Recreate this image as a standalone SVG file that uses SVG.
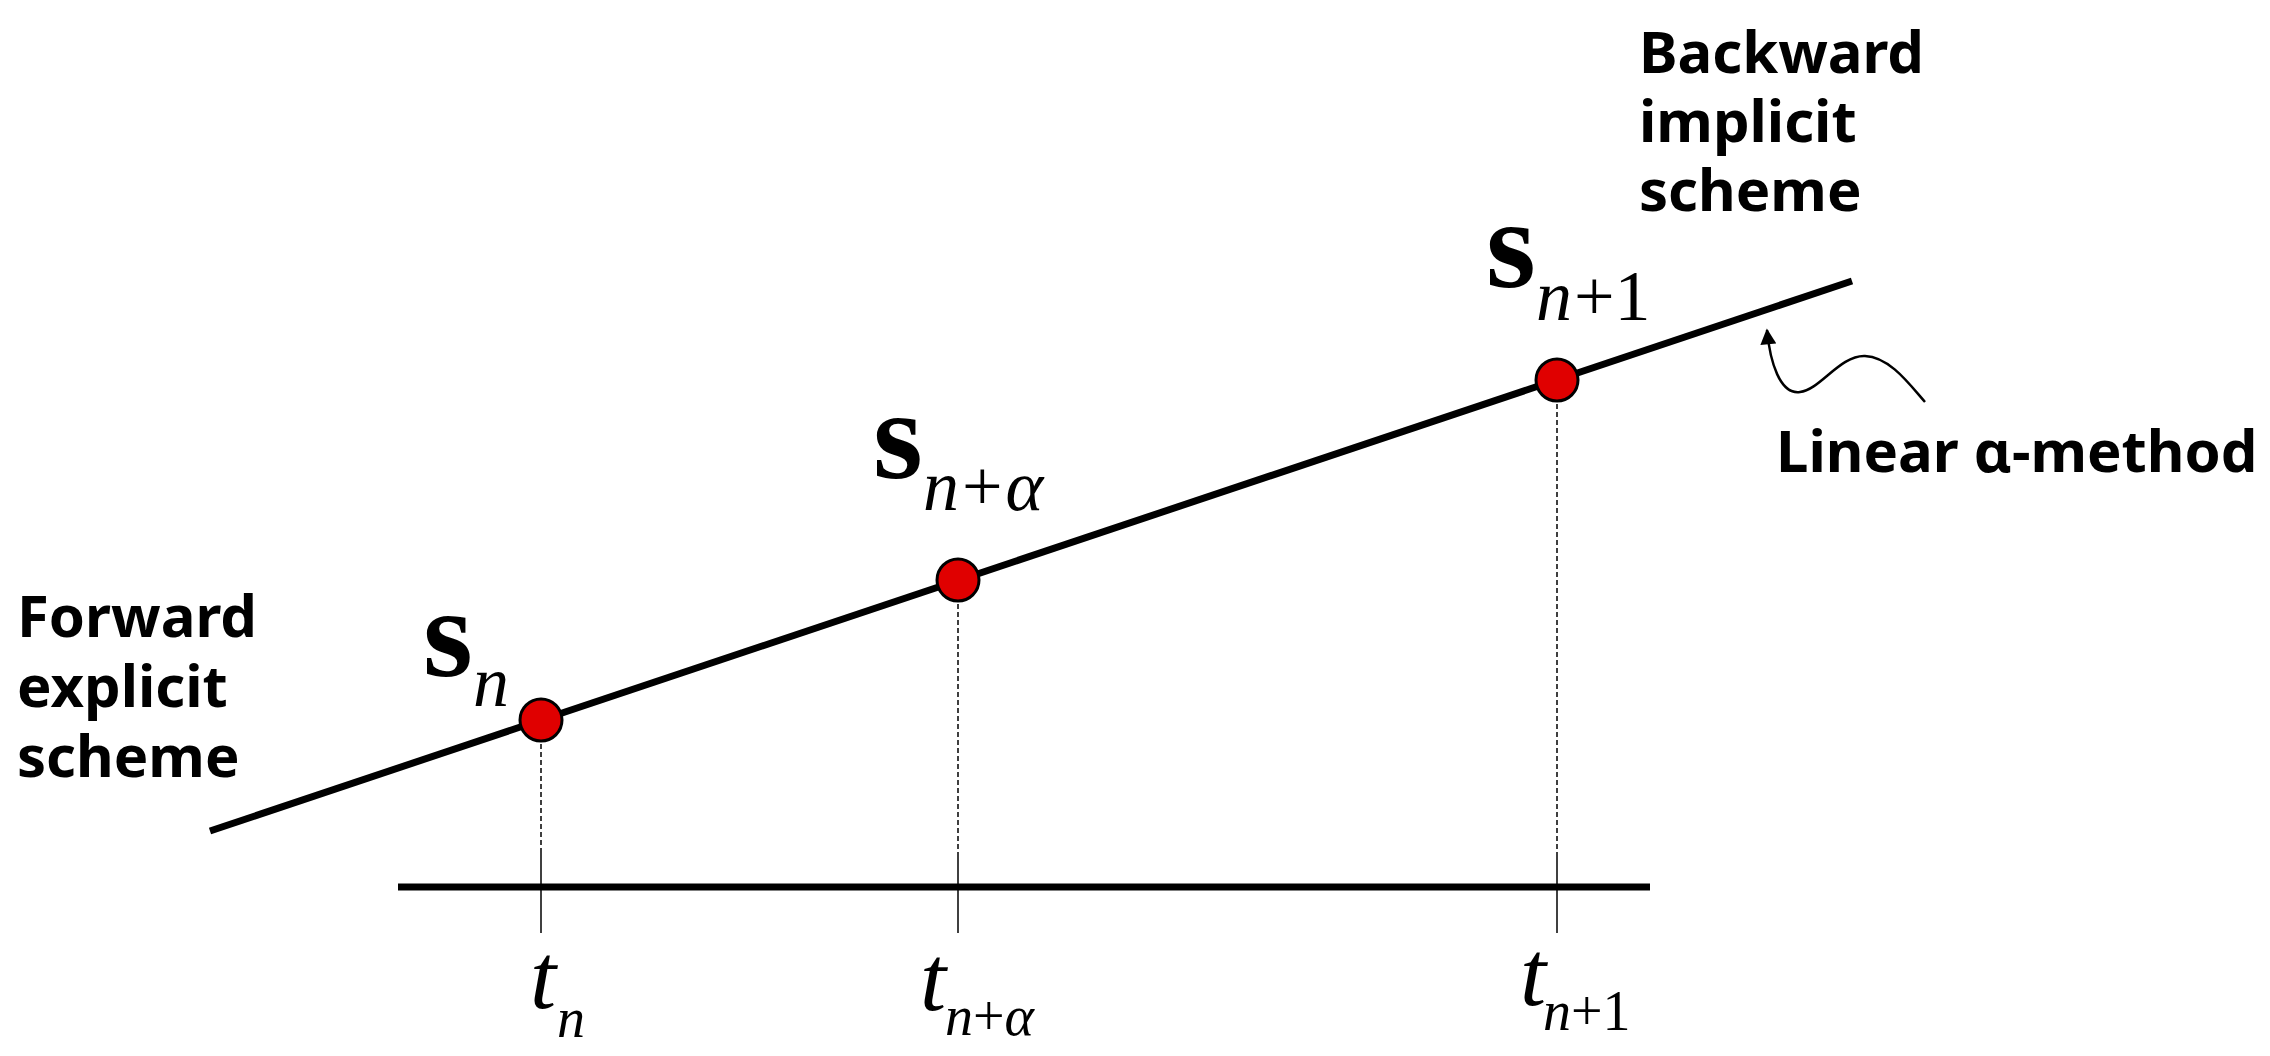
<svg xmlns="http://www.w3.org/2000/svg" width="2270" height="1056" viewBox="0 0 2270 1056">
<style>
.lbl{font-family:"Noto Sans","Liberation Sans",sans-serif;font-weight:bold;font-size:58px;fill:#000}
.sv{font-family:"Liberation Serif","DejaVu Serif",serif;font-weight:bold;font-size:128px;fill:#000}
.sub{font-family:"Liberation Serif","DejaVu Serif",serif;font-style:italic;font-size:72px;fill:#000}
.tv{font-family:"Liberation Serif","DejaVu Serif",serif;font-style:italic;font-size:94px;fill:#000}
.tsub{font-family:"Liberation Serif","DejaVu Serif",serif;font-style:italic;font-size:56px;fill:#000}
.up{font-style:normal}
.pt{fill:#e00000;stroke:#000;stroke-width:3}
.dash{stroke:#000;stroke-width:1.5;stroke-dasharray:5 3;fill:none}
.tick{stroke:#000;stroke-width:1.5;fill:none}
</style>
<defs>
<marker id="ah" viewBox="0 0 10 10" refX="9" refY="5" markerWidth="18" markerHeight="16" markerUnits="userSpaceOnUse" orient="auto">
<path d="M0,0 L10,5 L0,10 z" fill="#000"/>
</marker>
</defs>
<g id="connectors">
<line x1="210" y1="831" x2="1852" y2="281" stroke="#000" stroke-width="7"/>
<line x1="398" y1="887" x2="1650" y2="887" stroke="#000" stroke-width="7"/>
<line class="dash" x1="541" y1="744" x2="541" y2="853"/>
<line class="tick" x1="541" y1="853" x2="541" y2="933"/>
<line class="dash" x1="958" y1="604" x2="958" y2="853"/>
<line class="tick" x1="958" y1="853" x2="958" y2="933"/>
<line class="dash" x1="1557" y1="404" x2="1557" y2="853"/>
<line class="tick" x1="1557" y1="853" x2="1557" y2="933"/>
<path d="M1925,402 C1910,385 1890,357 1865,356 C1840,355 1820,390 1800,392 C1780,395 1770,362 1767,330" fill="none" stroke="#000" stroke-width="2.5" marker-end="url(#ah)"/>
</g>
<g id="node-sn">
<circle class="pt" cx="541" cy="720" r="21"/>
<text class="sv" x="423" y="676">s</text>
<text class="sub" x="473" y="706">n</text>
</g>
<g id="node-snalpha">
<circle class="pt" cx="958" cy="580" r="21"/>
<text class="sv" x="873" y="478">s</text>
<text class="sub" x="923" y="510">n<tspan class="up" dx="3">+</tspan><tspan dx="3">α</tspan></text>
</g>
<g id="node-sn1">
<circle class="pt" cx="1557" cy="380" r="21"/>
<text class="sv" x="1486" y="287">s</text>
<text class="sub" x="1536" y="320">n<tspan class="up" dx="2">+1</tspan></text>
</g>
<g id="label-tn">
<text class="tv" x="530" y="1008">t</text>
<text class="tsub" x="557" y="1037">n</text>
</g>
<g id="label-tnalpha">
<text class="tv" x="920" y="1010">t</text>
<text class="tsub" x="945" y="1035">n<tspan class="up">+</tspan>α</text>
</g>
<g id="label-tn1">
<text class="tv" x="1520" y="1005">t</text>
<text class="tsub" x="1543" y="1030">n<tspan class="up">+1</tspan></text>
</g>
<g id="label-forward">
<text class="lbl" x="17" y="637">Forward</text>
<text class="lbl" x="17" y="707">explicit</text>
<text class="lbl" x="17" y="777">scheme</text>
</g>
<g id="label-backward">
<text class="lbl" x="1639" y="73">Backward</text>
<text class="lbl" x="1639" y="142">implicit</text>
<text class="lbl" x="1639" y="211">scheme</text>
</g>
<g id="label-linear">
<text class="lbl" x="1776" y="472">Linear α-method</text>
</g>
</svg>
